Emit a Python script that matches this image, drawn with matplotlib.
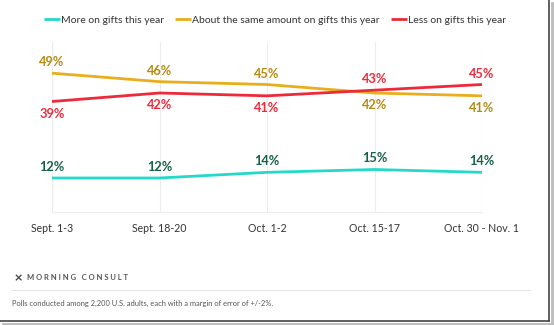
import matplotlib
matplotlib.use("Agg")
import matplotlib.pyplot as plt
from matplotlib.lines import Line2D

plt.rcParams["font.family"] = ["Lato", "DejaVu Sans"]

# poll waves and shares (%)
waves = ["Sept. 1-3", "Sept. 18-20", "Oct. 1-2", "Oct. 15-17", "Oct. 30 - Nov. 1"]
more = [12, 12, 14, 15, 14]
same = [49, 46, 45, 42, 41]
less = [39, 42, 41, 43, 45]

series = [
    ("More on gifts this year", more, "#25d9c8", "#17604a"),
    ("About the same amount on gifts this year", same, "#e8ae1c", "#b48b12"),
    ("Less on gifts this year", less, "#ec2a3a", "#ec2a3a"),
]

W, H = 554, 325
fig = plt.figure(figsize=(W / 100, H / 100), dpi=100)
ax = fig.add_axes([52 / W, 1 - 212 / H, (482 - 52) / W, (212 - 42) / H])

x = list(range(len(waves)))
for name, vals, color, _ in series:
    ax.plot(x, vals, color=color, lw=2, label=name, solid_capstyle="butt")

# label placement: +1 above the line, -1 below
above_more = [1, 1, 1, 1, 1]
above_same = [1, 1, 1, -1, -1]
above_less = [-1, -1, -1, 1, 1]
for (name, vals, color, tcolor), sides in zip(series, [above_more, above_same, above_less]):
    for i, v in enumerate(vals):
        off = 11 if sides[i] > 0 else -12
        ax.annotate(f"{v}%", (i, v), xytext=(0, off), textcoords="offset pixels",
                    ha="center", va="center", fontsize=9.2, fontweight="bold",
                    color=tcolor)

ax.set_xlim(0, len(waves) - 1)
ax.set_ylim(0, 60)
ax.set_xticks(x)
ax.set_xticklabels(waves, fontsize=7.6, color="#333333")
ax.set_yticks([])
ax.tick_params(axis="x", length=0, pad=8)
ax.grid(axis="x", color="#ececec", lw=0.8)
for s in ["top", "left", "right"]:
    ax.spines[s].set_visible(False)
ax.spines["bottom"].set_color("#ececec")
ax.spines["bottom"].set_linewidth(0.8)

fig.legend(loc="center", bbox_to_anchor=(275 / W, 1 - 20 / H), ncol=3, frameon=False,
           fontsize=7.5, handlelength=1.5, handletextpad=0.1, columnspacing=1.1,
           labelcolor="#333333")

# brand line and footnote
logo_x, logo_y = 14 / W, 1 - 278 / H
fig.text(logo_x, logo_y, "⨯", fontsize=8, color="#444444", ha="left", va="center",
         family=["DejaVu Sans"], fontweight="bold")
fig.text(27 / W, logo_y, "M O R N I N G   C O N S U L T", fontsize=5.5, color="#555555",
         ha="left", va="center", fontweight="bold")
fig.add_artist(Line2D([12 / W, 530 / W], [1 - 290 / H] * 2, color="#e6e6e6", lw=0.8))
fig.text(12 / W, 1 - 303 / H,
         "Polls conducted among 2,200 U.S. adults, each with a margin of error of +/-2%.",
         fontsize=5.4, color="#555555", ha="left", va="center")

# frame with drop shadow on the right and bottom
fig.add_artist(Line2D([549 / W, 549 / W], [1 - 321 / H, 1], color="#444444", lw=1.2))
fig.add_artist(Line2D([0, 549 / W], [1 - 321 / H] * 2, color="#444444", lw=1.2))
fig.add_artist(Line2D([551.5 / W, 551.5 / W], [1 - 323 / H, 1 - 3 / H], color="#bbbbbb", lw=2))
fig.add_artist(Line2D([3 / W, 551.5 / W], [1 - 323.5 / H] * 2, color="#bbbbbb", lw=2))

fig.savefig("out.png", dpi=100)
